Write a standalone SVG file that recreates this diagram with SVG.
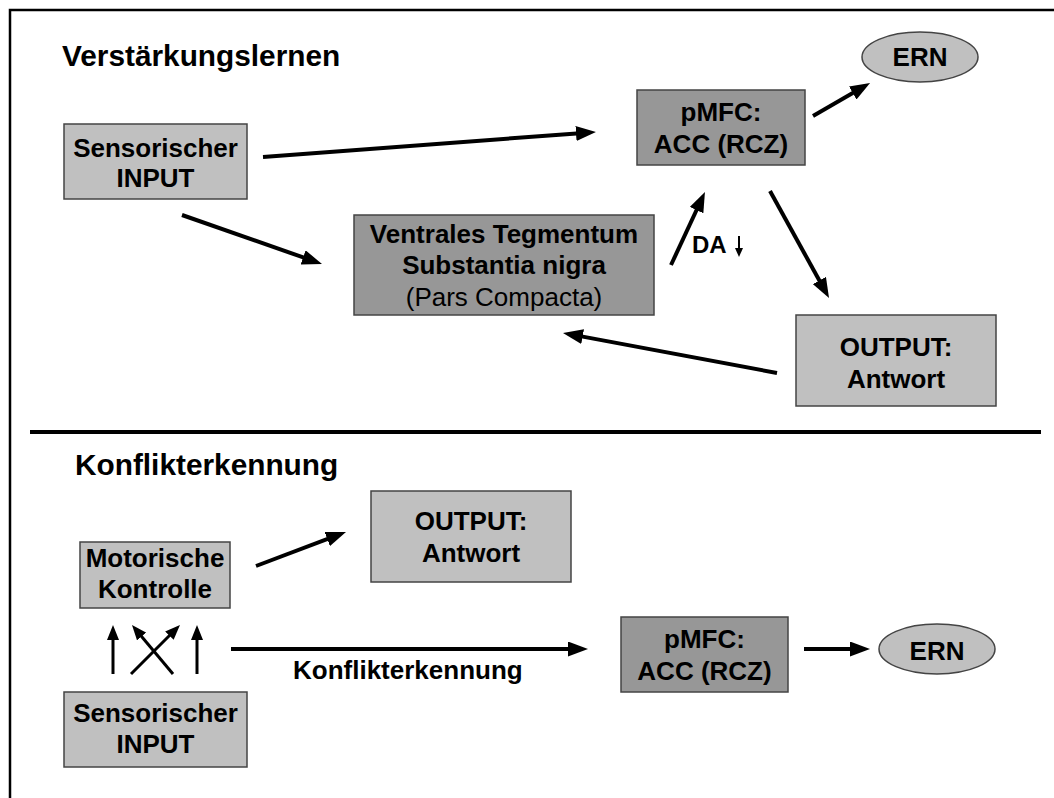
<svg xmlns="http://www.w3.org/2000/svg" width="1054" height="798" viewBox="0 0 1054 798">
<defs>
<style>
text{font-family:"Liberation Sans",Arial,sans-serif;fill:#000}
.t{font-size:29.8px;font-weight:bold}
.b{font-size:26px;font-weight:bold;text-anchor:middle}
.r{font-size:26px;text-anchor:middle}
.lt{fill:#c0c0c0;stroke:#444;stroke-width:1.5}
.dk{fill:#979797;stroke:#444;stroke-width:1.5}
.c{stroke:#000;fill:none}
.w4{stroke-width:4}
.w3{stroke-width:3}
</style>
<marker id="ah" markerUnits="userSpaceOnUse" markerWidth="20" markerHeight="15" viewBox="0 0 20 15" refX="4" refY="7.5" orient="auto"><path d="M0,0 L20,7.5 L0,15 z" fill="#000"/></marker>
<marker id="sm" markerUnits="userSpaceOnUse" markerWidth="15" markerHeight="12" viewBox="0 0 15 12" refX="3" refY="6" orient="auto"><path d="M0,0 L15,6 L0,12 z" fill="#000"/></marker>
<marker id="xs" markerUnits="userSpaceOnUse" markerWidth="9" markerHeight="8" viewBox="0 0 9 8" refX="2" refY="4" orient="auto"><path d="M0,0 L9,4 L0,8 z" fill="#000"/></marker>
</defs>
<rect width="1054" height="798" fill="#fff"/>
<g id="frame">
<path d="M10,798 V10 H1054" stroke="#000" stroke-width="2.5" fill="none"/>
</g>
<g id="titles">
<text class="t" x="62" y="66">Verstärkungslernen</text>
<text class="t" x="75" y="475">Konflikterkennung</text>
</g>
<g id="sens1">
<rect class="lt" x="64" y="124" width="183" height="75"/>
<text class="b" x="155.5" y="157">Sensorischer</text>
<text class="b" x="155.5" y="187">INPUT</text>
</g>
<g id="pmfc1">
<rect class="dk" x="637" y="90" width="168" height="75"/>
<text class="b" x="721" y="121">pMFC:</text>
<text class="b" x="721" y="153">ACC (RCZ)</text>
</g>
<g id="ern1">
<ellipse class="lt" cx="920" cy="57" rx="58" ry="25"/>
<text class="b" x="920" y="66">ERN</text>
</g>
<g id="vta">
<rect class="dk" x="354" y="215" width="300" height="100"/>
<text class="b" x="504" y="243">Ventrales Tegmentum</text>
<text class="b" x="504" y="274">Substantia nigra</text>
<text class="r" x="504" y="306">(Pars Compacta)</text>
</g>
<g id="out1">
<rect class="lt" x="796" y="315" width="200" height="91"/>
<text class="b" x="896" y="356">OUTPUT:</text>
<text class="b" x="896" y="388">Antwort</text>
</g>
<g id="motor">
<rect class="lt" x="80" y="542" width="150" height="66"/>
<text class="b" x="155" y="567">Motorische</text>
<text class="b" x="155" y="598">Kontrolle</text>
</g>
<g id="out2">
<rect class="lt" x="371" y="491" width="200" height="91"/>
<text class="b" x="471" y="530">OUTPUT:</text>
<text class="b" x="471" y="562">Antwort</text>
</g>
<g id="sens2">
<rect class="lt" x="64" y="692" width="183" height="75"/>
<text class="b" x="155.5" y="722">Sensorischer</text>
<text class="b" x="155.5" y="753">INPUT</text>
</g>
<g id="pmfc2">
<rect class="dk" x="621" y="617" width="167" height="75"/>
<text class="b" x="704.5" y="648">pMFC:</text>
<text class="b" x="704.5" y="680">ACC (RCZ)</text>
</g>
<g id="ern2">
<ellipse class="lt" cx="937" cy="649" rx="58" ry="25"/>
<text class="b" x="937" y="660">ERN</text>
</g>
<g id="connectors">
<line class="c w4" x1="263" y1="157" x2="580" y2="133.2" marker-end="url(#ah)"/>
<line class="c w4" x1="182" y1="215" x2="306.9" y2="258.7" marker-end="url(#ah)"/>
<line class="c w4" x1="813" y1="116" x2="856.2" y2="91" marker-end="url(#ah)"/>
<line class="c w4" x1="671" y1="265" x2="698.2" y2="206.5" marker-end="url(#ah)"/>
<line class="c w4" x1="770" y1="191" x2="821.3" y2="284" marker-end="url(#ah)"/>
<line class="c w4" x1="777" y1="373" x2="578.7" y2="335.9" marker-end="url(#ah)"/>
<line class="c" stroke-width="2" x1="739" y1="236" x2="739" y2="250" marker-end="url(#xs)"/>
<line class="c w4" x1="30" y1="432" x2="1041" y2="432"/>
<line class="c w4" x1="256" y1="566" x2="331" y2="537.7" marker-end="url(#ah)"/>
<line class="c w3" x1="113" y1="674" x2="113" y2="637" marker-end="url(#sm)"/>
<line class="c w3" x1="197" y1="674" x2="197" y2="637" marker-end="url(#sm)"/>
<line class="c w3" x1="131" y1="674" x2="171.5" y2="633.5" marker-end="url(#sm)"/>
<line class="c w3" x1="173" y1="674" x2="139.7" y2="634.2" marker-end="url(#sm)"/>
<line class="c w4" x1="231" y1="649" x2="572" y2="649" marker-end="url(#ah)"/>
<line class="c w4" x1="804" y1="649" x2="854" y2="649" marker-end="url(#ah)"/>
</g>
<g id="labels">
<text x="692" y="253" style="font-size:24px;font-weight:bold">DA</text>
<text x="293" y="679" style="font-size:26px;font-weight:bold">Konflikterkennung</text>
</g>
</svg>
